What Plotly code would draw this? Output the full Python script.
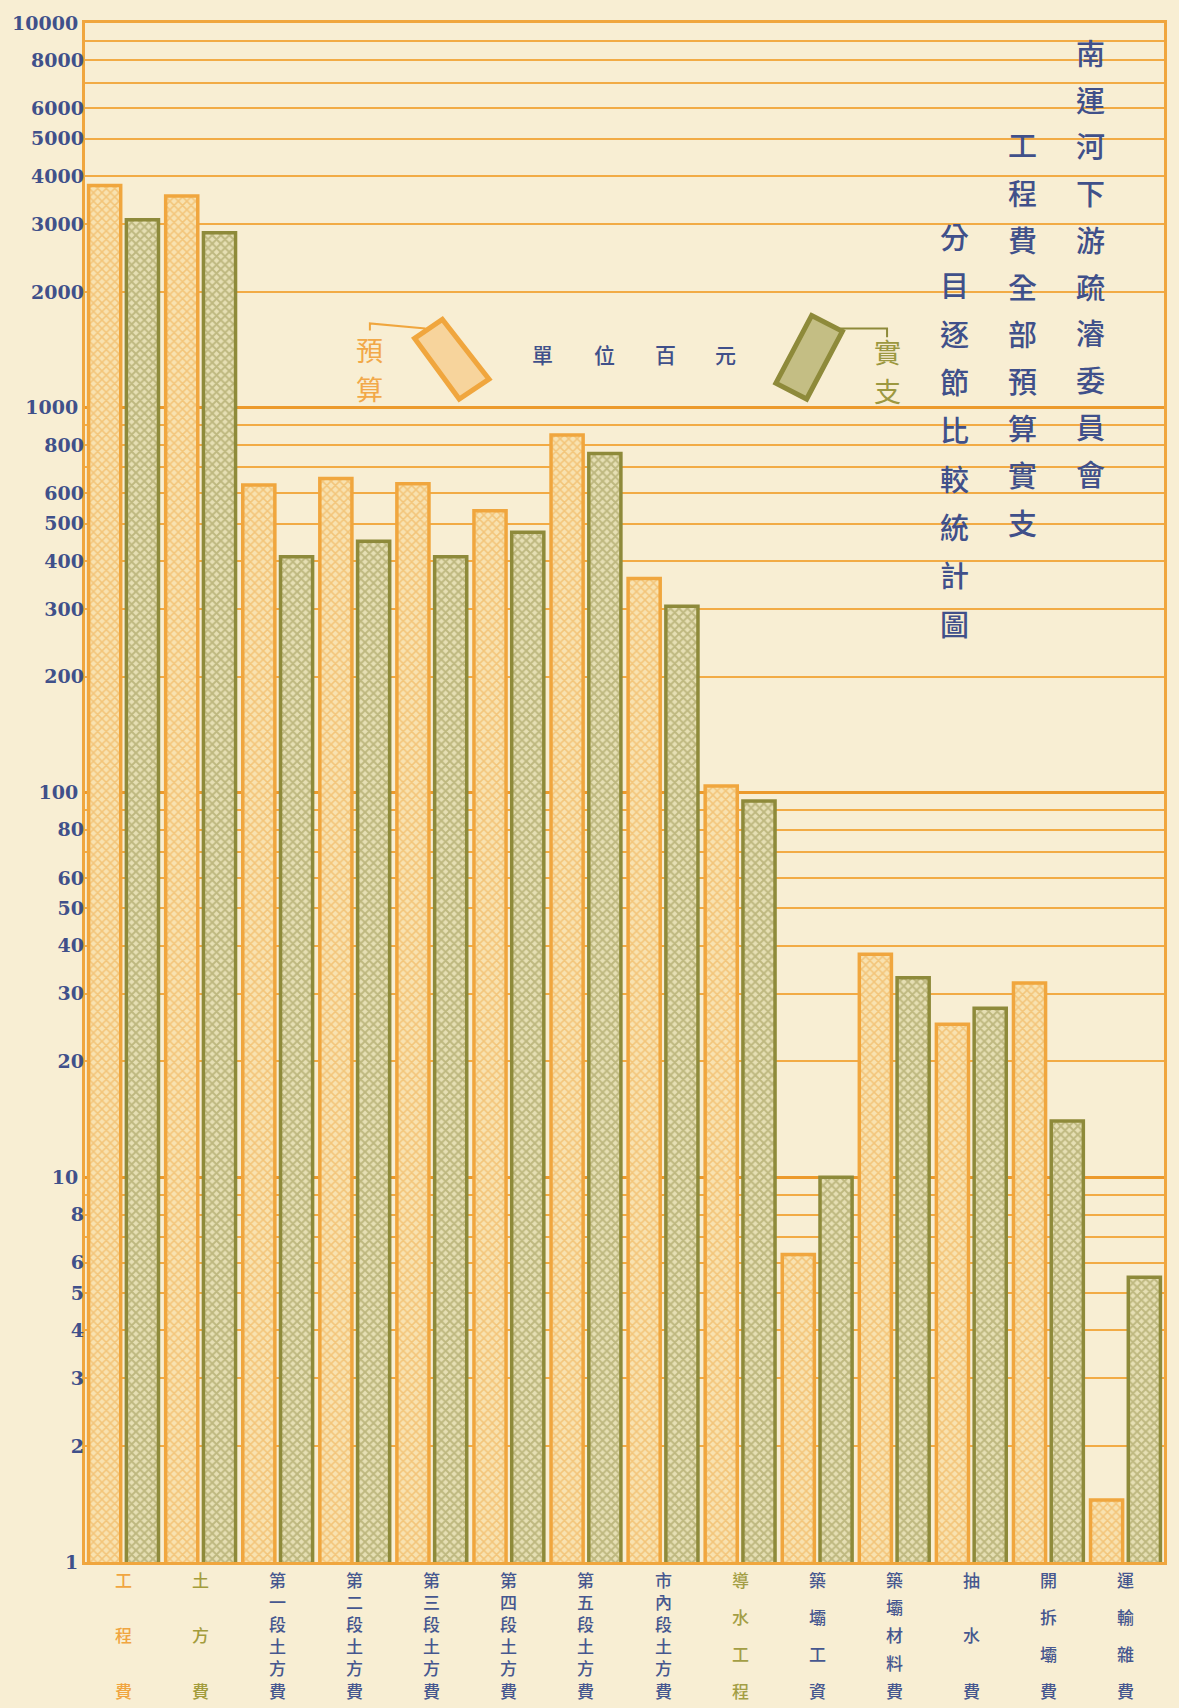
import plotly.graph_objects as go

# ---------------- data ----------------
categories = ["工程費", "土方費", "第一段土方費", "第二段土方費", "第三段土方費",
              "第四段土方費", "第五段土方費", "市內段土方費", "導水工程", "築壩工資",
              "築壩材料費", "抽水費", "開拆壩費", "運輸雜費"]
budget = [3780, 3550, 630, 655, 635, 540, 850, 360, 104, 6.3, 38, 25, 32, 1.45]   # 預算
actual = [3080, 2850, 410, 450, 410, 475, 760, 305, 95, 10, 33, 27.5, 14, 5.5]     # 實支
label_colors = ["#F0A540", "#A39C3C", "#46578F", "#46578F", "#46578F", "#46578F",
                "#46578F", "#46578F", "#A39E45", "#46578F", "#46578F", "#46578F",
                "#46578F", "#46578F"]

decade_vals = [1, 10, 100, 1000, 10000]
decade_text = ["1", "10", "100", "1000", "10000"]
minor_vals = [2, 3, 4, 5, 6, 7, 8, 9,
              20, 30, 40, 50, 60, 70, 80, 90,
              200, 300, 400, 500, 600, 700, 800, 900,
              2000, 3000, 4000, 5000, 6000, 7000, 8000, 9000]
minor_text = ["2", "3", "4", "5", "6", "", "8", "",
              "20", "30", "40", "50", "60", "", "80", "",
              "200", "300", "400", "500", "600", "", "800", "",
              "2000", "3000", "4000", "5000", "6000", "", "8000", ""]

title_cols = ["南運河下游疏濬委員會", "工程費全部預算實支", "分目逐節比較統計圖"]
unit_chars = ["單", "位", "百", "元"]

# ---------------- style ----------------
BG = "#F8EED3"
ORANGE = "#F0A63E"
ORANGE_DARK = "#EC9A2C"
OLIVE = "#8E8A3A"
BLUE = "#40508A"
CJK = "Noto Sans CJK TC"

L, R, T, B = 80, 1167, 15, 1562   # plot area in pixels
W, H = 1179, 1708


def pxx(x):
    return (x - L) / (R - L)


def pxy(y):
    return (B - y) / (B - T)


fig = go.Figure()
fig.add_trace(go.Bar(
    x=categories, y=budget, name="預算",
    marker=dict(color="#F8E2B0",
                line=dict(color=ORANGE, width=3.5),
                pattern=dict(shape="x", fgcolor="#EEA844", bgcolor="#F8E2B0",
                             size=6, solidity=0.45)),
))
fig.add_trace(go.Bar(
    x=categories, y=actual, name="實支",
    marker=dict(color="#E4DDB0",
                line=dict(color=OLIVE, width=3.5),
                pattern=dict(shape="x", fgcolor="#96914A", bgcolor="#E6DFB4",
                             size=6, solidity=0.55)),
))
# invisible helper on overlay axis so its labels render
fig.add_trace(go.Scatter(x=[categories[0]], y=[1], yaxis="y2", mode="markers",
                         marker=dict(opacity=0), showlegend=False, hoverinfo="skip"))

tickfont = dict(family="DejaVu Serif", size=19, color=BLUE, weight="bold")

fig.update_layout(
    width=W, height=H,
    margin=dict(l=L, r=W - R, t=T, b=H - B),
    paper_bgcolor=BG, plot_bgcolor=BG,
    showlegend=False,
    barmode="group", bargap=0.02, bargroupgap=0.15,
    xaxis=dict(type="category", range=[-0.5, len(categories) - 0.5],
               showticklabels=False, showgrid=False,
               showline=True, linecolor=ORANGE, linewidth=3, mirror=True,
               ticks=""),
    yaxis=dict(type="log", range=[0, 4], tickvals=decade_vals, ticktext=decade_text,
               showgrid=True, gridcolor=ORANGE_DARK, gridwidth=2.8,
               minor=dict(tickvals=minor_vals, showgrid=True, gridcolor="#F2AB45",
                          gridwidth=1.6, ticks=""),
               showline=True, linecolor=ORANGE, linewidth=3, mirror=True,
               ticks="", tickfont=tickfont, zeroline=False),
    yaxis2=dict(type="log", range=[0, 4], overlaying="y", side="left",
                tickvals=minor_vals, ticktext=minor_text, showgrid=False,
                showline=False, ticks="", tickfont=tickfont, zeroline=False),
)

ann = []
# category labels, one character per annotation spread vertically
for cat, col in zip(categories, label_colors):
    n = len(cat)
    top, bot = 1579, 1690
    for k, ch in enumerate(cat):
        yy = top + (bot - top) * k / (n - 1)
        ann.append(dict(x=cat, xref="x", y=0, yref="paper", yshift=-(yy - B),
                        text=ch, showarrow=False, xanchor="center", yanchor="middle",
                        font=dict(family=CJK, size=17, color=col, weight=500)))

# title columns (vertical, right-to-left)
col_x = [1093, 1024, 956]
col_y0 = [44, 137, 229]
col_step = [47, 47.4, 48.6]
for text, cx, cy0, st in zip(title_cols, col_x, col_y0, col_step):
    for k, ch in enumerate(text):
        ann.append(dict(x=pxx(cx), y=pxy(cy0 + st * k), xref="paper", yref="paper",
                        text=ch, showarrow=False, xanchor="center", yanchor="middle",
                        font=dict(family=CJK, size=29, color=BLUE, weight=500)))

# legend texts
for ch, yy in zip("預算", [343, 382]):
    ann.append(dict(x=pxx(367), y=pxy(yy), xref="paper", yref="paper", text=ch,
                    showarrow=False, xanchor="center", yanchor="middle",
                    font=dict(family=CJK, size=27, color="#F2A848")))
for ch, yy in zip("實支", [345, 384]):
    ann.append(dict(x=pxx(888), y=pxy(yy), xref="paper", yref="paper", text=ch,
                    showarrow=False, xanchor="center", yanchor="middle",
                    font=dict(family=CJK, size=27, color="#9C9840")))
for ch, xx in zip(unit_chars, [541, 603, 665, 725]):
    ann.append(dict(x=pxx(xx), y=pxy(348), xref="paper", yref="paper", text=ch,
                    showarrow=False, xanchor="center", yanchor="middle",
                    font=dict(family=CJK, size=21, color=BLUE, weight=500)))
fig.update_layout(annotations=ann)


def path(points):
    return "M " + " L ".join(f"{pxx(x):.5f},{pxy(y):.5f}" for x, y in points)


shapes = [
    dict(type="path", xref="paper", yref="paper",
         path=path([(412, 332), (440, 313), (487, 373), (457, 393)]) + " Z",
         fillcolor="#F7D49C", line=dict(color=ORANGE, width=5)),
    dict(type="path", xref="paper", yref="paper",
         path=path([(812, 309), (843, 325), (807, 393), (776, 377)]) + " Z",
         fillcolor="#C4BE84", line=dict(color=OLIVE, width=5)),
    dict(type="path", xref="paper", yref="paper",
         path=path([(367, 324), (367, 317), (423, 322)]),
         line=dict(color=ORANGE, width=2)),
    dict(type="path", xref="paper", yref="paper",
         path=path([(841, 322), (888, 322), (888, 331)]),
         line=dict(color=OLIVE, width=2)),
]
fig.update_layout(shapes=shapes)

fig.write_html("out.html", config={"displayModeBar": False},
               post_script="document.body.style.margin='0';")
